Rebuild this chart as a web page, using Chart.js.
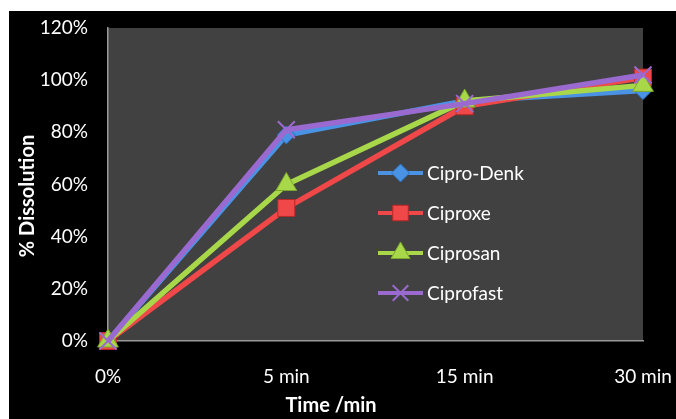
<!DOCTYPE html>
<html>
<head>
<meta charset="utf-8">
<script src="https://cdn.jsdelivr.net/npm/chart.js@4/dist/chart.umd.min.js"></script>
<style>
  html,body{margin:0;padding:0;background:#fff;}
  #wrap{position:absolute;left:9px;top:11px;width:667px;height:408px;background:#000;}
  canvas{display:block;}
</style>
</head>
<body>
<div id="wrap"><canvas id="c" width="667" height="408"></canvas></div>
<script>
const categories = ['0%', '5 min', '15 min', '30 min'];
const ciproDenk = [0, 79, 92, 96];
const ciproxe = [0, 51, 90, 101];
const ciprosan = [0, 60, 92, 98];
const ciprofast = [0, 81, 91, 102];
const yTicks = [0, 20, 40, 60, 80, 100, 120];
const seriesNames = ['Cipro-Denk', 'Ciproxe', 'Ciprosan', 'Ciprofast'];
const xTitle = 'Time /min';
const yTitle = '% Dissolution';

const FONT = 'Lato, "Open Sans", sans-serif';

const bgPlugin = {
  id: 'bg',
  beforeDraw(chart) {
    const {ctx, chartArea: a} = chart;
    ctx.save();
    ctx.fillStyle = '#000';
    ctx.fillRect(0, 0, chart.width, chart.height);
    ctx.fillStyle = '#414141';
    ctx.fillRect(a.left, a.top, a.right - a.left, a.bottom - a.top);
    ctx.restore();
  }
};

const titlesPlugin = {
  id: 'titles',
  afterDraw(chart) {
    const ctx = chart.ctx;
    ctx.save();
    ctx.fillStyle = '#fff';
    ctx.font = 'bold 20px ' + FONT;
    ctx.textAlign = 'center';
    ctx.textBaseline = 'middle';
    ctx.fillText(xTitle, 322, 395);
    ctx.translate(19, 185);
    ctx.rotate(-Math.PI / 2);
    ctx.fillText(yTitle, 0, 0);
    ctx.restore();
  }
};

const legendPlugin = {
  id: 'customLegend',
  afterDraw(chart) {
    const ctx = chart.ctx;
    const x0 = 369, x1 = 414, tx = 418;
    const ys = [162, 202, 242, 282];
    chart.data.datasets.forEach((ds, i) => {
      const y = ys[i];
      ctx.save();
      ctx.strokeStyle = ds.borderColor;
      ctx.lineWidth = 4;
      ctx.beginPath();
      ctx.moveTo(x0, y);
      ctx.lineTo(x1, y);
      ctx.stroke();
      ctx.fillStyle = ds.pointBackgroundColor;
      ctx.strokeStyle = ds.pointBorderColor;
      ctx.lineWidth = ds.pointBorderWidth;
      Chart.helpers.drawPoint(ctx, {
        pointStyle: ds.pointStyle,
        radius: ds.legendRadius,
        borderWidth: ds.pointBorderWidth,
        rotation: 0
      }, (x0 + x1) / 2, y);
      ctx.fillStyle = '#fff';
      ctx.font = '19px ' + FONT;
      ctx.textAlign = 'left';
      ctx.textBaseline = 'middle';
      ctx.fillText(ds.label, tx, y + 1);
      ctx.restore();
    });
  }
};

function ds(label, data, color, border, style, radius, legendRadius, order, pbw) {
  return {
    label, data, order,
    borderColor: color,
    backgroundColor: color,
    borderWidth: 5.5,
    pointStyle: style,
    pointRadius: radius,
    pointHoverRadius: radius,
    legendRadius,
    pointBackgroundColor: color,
    pointBorderColor: border,
    pointBorderWidth: pbw,
    tension: 0,
    clip: false
  };
}

new Chart(document.getElementById('c'), {
  type: 'line',
  data: {
    labels: categories,
    datasets: [
      ds(seriesNames[0], ciproDenk, '#4a93e4', '#2a6fc0', 'rectRot', 9, 9, 4, 1),
      ds(seriesNames[1], ciproxe, '#f04848', '#b82828', 'rect', 12, 11, 3, 1),
      ds(seriesNames[2], ciprosan, '#a8d84a', '#7aa82a', 'triangle', 12, 11, 2, 1),
      ds(seriesNames[3], ciprofast, '#9a6ad0', '#9a6ad0', 'crossRot', 12, 11, 1, 2)
    ]
  },
  options: {
    responsive: false,
    animation: false,
    events: [],
    layout: {padding: {left: 0, top: 17, right: 33, bottom: 0}},
    plugins: {legend: {display: false}, tooltip: {enabled: false}},
    scales: {
      x: {
        offset: false,
        grid: {display: true, color: 'rgba(0,0,0,0)', drawTicks: false},
        border: {display: true, color: '#9a9a9a', width: 1.5},
        ticks: {color: '#fff', font: {family: FONT, size: 19}, padding: 24, maxRotation: 0, autoSkip: false},
        afterFit(s) { s.height = 78; s.paddingLeft = 0; s.paddingRight = 0; s.paddingTop = 0; s.paddingBottom = 0; }
      },
      y: {
        min: 0, max: 120,
        afterBuildTicks(s) { s.ticks = yTicks.map(v => ({value: v})); },
        grid: {display: true, color: 'rgba(0,0,0,0)', drawTicks: false},
        border: {display: true, color: '#9a9a9a', width: 1.5},
        ticks: {color: '#fff', font: {family: FONT, size: 19}, padding: 20, callback: v => v + '%'},
        afterFit(s) { s.width = 99; s.paddingLeft = 0; s.paddingRight = 0; s.paddingTop = 0; s.paddingBottom = 0; }
      }
    }
  },
  plugins: [bgPlugin, titlesPlugin, legendPlugin]
});
</script>
</body>
</html>
